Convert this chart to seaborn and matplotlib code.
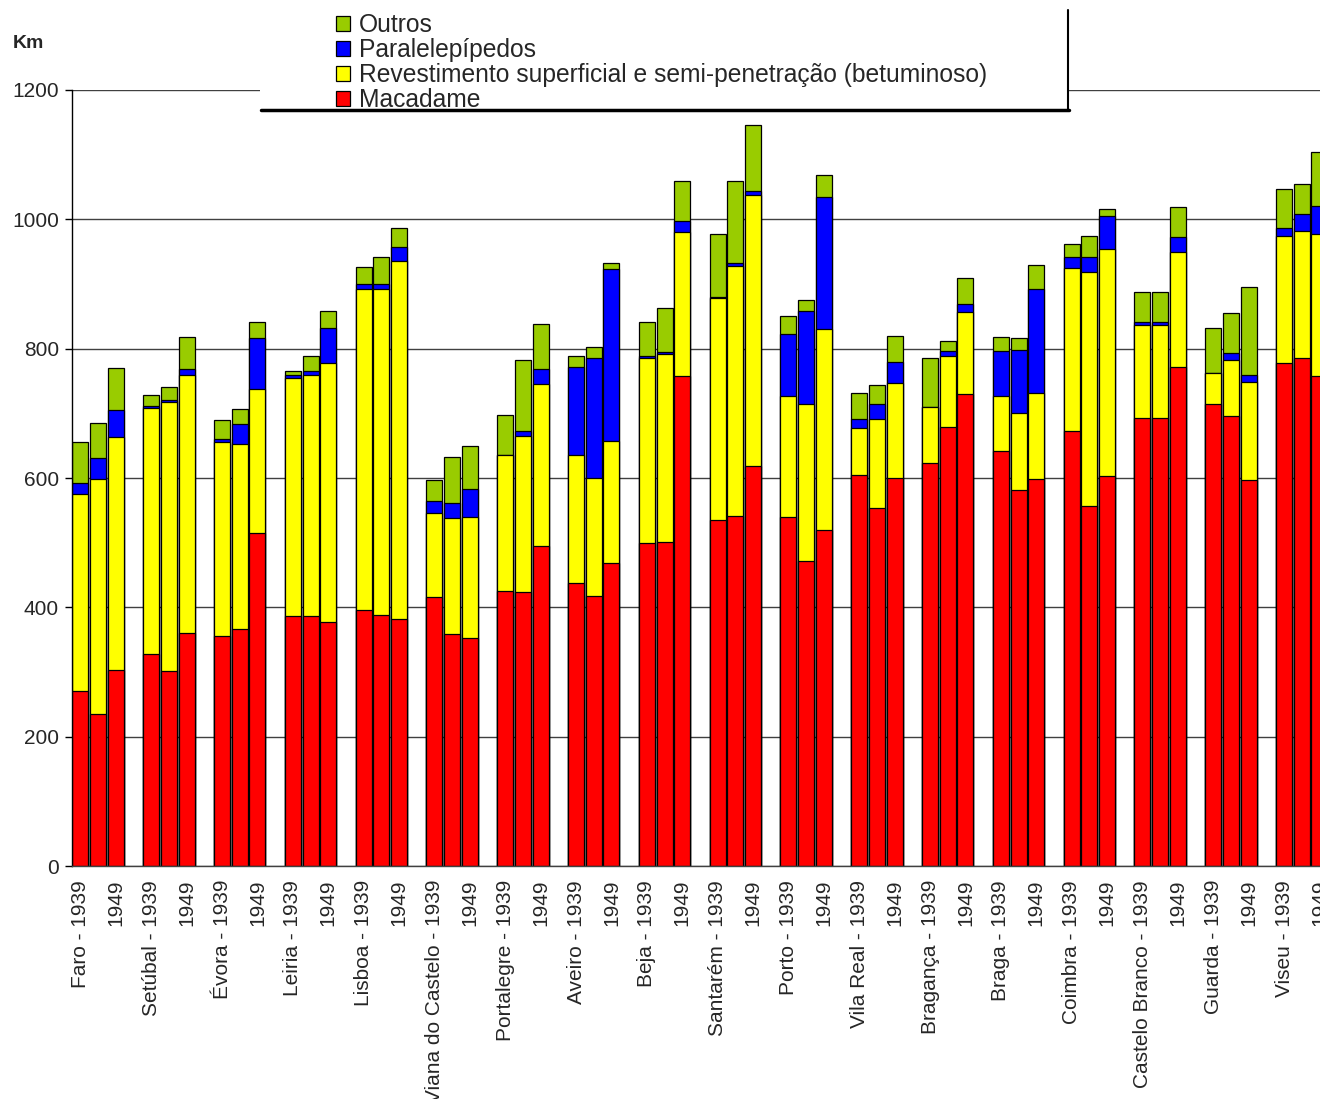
import numpy as np
import pandas as pd
import matplotlib
matplotlib.use("Agg")
import matplotlib.pyplot as plt
from matplotlib.patches import Patch, Rectangle
from matplotlib.lines import Line2D
import seaborn as sns

sns.set_style("white")
plt.rcParams['font.family'] = ['Liberation Sans', 'DejaVu Sans']

districts = ["Faro", "Setúbal", "Évora", "Leiria", "Lisboa", "Viana do Castelo",
             "Portalegre", "Aveiro", "Beja", "Santarém", "Porto", "Vila Real",
             "Bragança", "Braga", "Coimbra", "Castelo Branco", "Guarda", "Viseu"]
years = ["1939", "mid", "1949"]

# values per district, in order 1939, intermediate year, 1949
macadame = [271, 235, 303,  328, 302, 361,  356, 366, 515,  387, 387, 378,
            396, 388, 382,  416, 358, 352,  426, 424, 495,  438, 418, 468,
            499, 501, 758,  535, 541, 619,  539, 472, 519,  605, 553, 600,
            623, 679, 730,  642, 581, 599,  673, 557, 603,  693, 693, 772,
            714, 696, 597,  778, 786, 758]
revestimento = [304, 363, 360,  381, 415, 398,  299, 287, 222,  368, 372, 400,
                496, 504, 554,  130, 180, 188,  209, 241, 250,  198, 182, 189,
                287, 291, 222,  343, 387, 418,  188, 242, 311,   73, 138, 147,
                 87, 110, 127,   85, 120, 133,  251, 362, 351,  143, 143, 178,
                 49,  87, 152,  197, 196, 220]
paralelepipedos = [18, 33, 42,   3, 4, 9,   5, 30, 80,   5, 7, 54,
                   8, 8, 21,   18, 24, 43,   1, 7, 23,   136, 186, 266,
                   3, 3, 18,   2, 5, 7,   95, 144, 205,   13, 24, 33,
                   0, 7, 12,   69, 97, 161,   17, 22, 51,   5, 5, 23,
                   0, 11, 11,   12, 27, 43]
outros = [62, 54, 65,   17, 19, 50,   30, 24, 24,   6, 23, 26,
          26, 41, 30,   33, 71, 66,   62, 110, 70,   17, 16, 10,
          53, 68, 61,   97, 127, 102,   29, 18, 34,   41, 29, 40,
          75, 16, 41,   22, 18, 36,   21, 34, 11,   46, 47, 46,
          69, 61, 136,   60, 46, 83]

series_names = ["Macadame", "Revestimento superficial e semi-penetração (betuminoso)",
                "Paralelepípedos", "Outros"]
colors = {"Macadame": "#FF0000",
          "Revestimento superficial e semi-penetração (betuminoso)": "#FFFF00",
          "Paralelepípedos": "#0000FF",
          "Outros": "#99CC00"}

# slot keys: 3 bars + 1 empty gap per district
order, tick_labels = [], []
for i, d in enumerate(districts):
    order += [f"{d}|1939", f"{d}|mid", f"{d}|1949"]
    tick_labels += [f"{d} - 1939", "", "1949"]
    if i < len(districts) - 1:
        order.append(f"{d}|gap")
        tick_labels.append("")

keys = [f"{d}|{y}" for d in districts for y in years]
df = pd.DataFrame({"slot": keys,
                   "Macadame": macadame,
                   series_names[1]: revestimento,
                   "Paralelepípedos": paralelepipedos,
                   "Outros": outros})
cum = df[series_names].cumsum(axis=1)
cum["slot"] = df["slot"]

W, H = 1320, 1099
fig = plt.figure(figsize=(W / 100, H / 100), dpi=100)
x0 = 71.6
slot_w = 17.7
nslots = len(order)
ax = fig.add_axes([x0 / W, (H - 866) / H, nslots * slot_w / W, 776 / H])

for name in reversed(series_names):
    sns.barplot(data=cum, x="slot", y=name, order=order, color=colors[name],
                width=0.9, edgecolor="black", linewidth=0.9, saturation=1,
                errorbar=None, ax=ax)

ax.set_xlim(-0.5, nslots - 0.5)
ax.set_ylim(0, 1200)
ax.set_yticks(np.arange(0, 1201, 200))
ax.yaxis.grid(True, color="#404040", linewidth=1)
ax.set_axisbelow(True)
ax.set_xlabel("")
ax.set_ylabel("")

ax.set_xticks(np.arange(nslots))
ax.set_xticklabels(tick_labels, rotation=90, fontsize=15)
ax.set_xticks(np.arange(-0.5, nslots, 1), minor=True)
ax.tick_params(axis="x", which="major", length=0, pad=10)
ax.tick_params(axis="x", which="minor", length=5, width=1, color="#404040", direction="out")
ax.tick_params(axis="y", which="major", length=5, width=1, color="black", direction="out",
               labelsize=15, pad=4, left=True)
for lbl in ax.get_xticklabels():
    lbl.set_va("top")

for s in ["top", "right"]:
    ax.spines[s].set_visible(False)
ax.spines["left"].set_color("black")
ax.spines["left"].set_linewidth(1)
ax.spines["bottom"].set_color("#404040")
ax.spines["bottom"].set_linewidth(1)

fig.text(13 / W, 1 - 44 / H, "Km", fontsize=14, fontweight="bold", va="center", ha="left")

# legend panel
fig.patches.append(Rectangle((260 / W, 1 - 110 / H), (1068 - 260) / W, 100 / H,
                             transform=fig.transFigure, facecolor="white",
                             edgecolor="none", zorder=3))
fig.lines.append(Line2D([1068 / W, 1068 / W], [1 - 10 / H, 1 - 110 / H],
                        transform=fig.transFigure, color="black", lw=1.5, zorder=4))
fig.lines.append(Line2D([261 / W, 1069 / W], [1 - 110 / H, 1 - 110 / H],
                        transform=fig.transFigure, color="black", lw=2.5, zorder=4))

leg_names = ["Outros", "Paralelepípedos",
             "Revestimento superficial e semi-penetração (betuminoso)", "Macadame"]
handles = [Patch(facecolor=colors[n], edgecolor="black", linewidth=0.9) for n in leg_names]
leg = fig.legend(handles, leg_names, loc="upper left",
                 bbox_to_anchor=(336 / W, 1 - 13 / H), frameon=False, fontsize=17.7,
                 handlelength=0.58, handleheight=0.58, handletextpad=0.35,
                 labelspacing=0.04, borderpad=0, borderaxespad=0)
leg.set_zorder(5)

fig.savefig("out.png", dpi=100)
